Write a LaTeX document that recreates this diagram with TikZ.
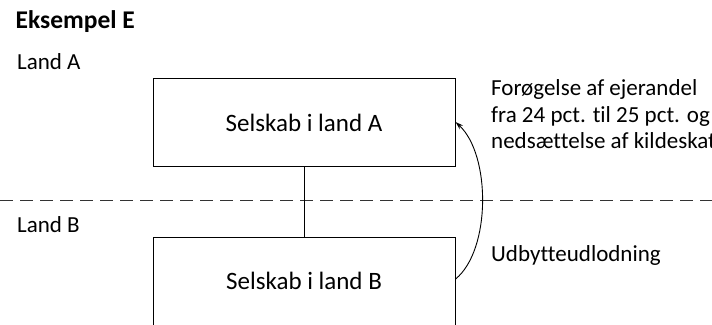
\documentclass[tikz,border=0pt]{standalone}
\usepackage{fontspec}
\setmainfont{Carlito}[Ligatures=NoCommon]
\usetikzlibrary{arrows.meta}
\begin{document}
\begin{tikzpicture}[x=1pt,y=-1pt,
  company/.style={draw,line width=1.1pt,minimum width=302pt,minimum height=88pt,inner sep=0pt},
  boxtext/.style={anchor=base,inner sep=0pt,font=\fontsize{25}{30}\selectfont},
  tag/.style={anchor=base west,inner sep=0pt,font=\fontsize{23}{27}\selectfont},
  border/.style={dash pattern=on 13pt off 7pt,line width=1.2pt,draw=black!80},
  flow/.style={line width=0.9pt,-{Stealth[length=8pt,width=5pt]}}]
  \useasboundingbox (0,0) rectangle (712,324);
  \clip (0,0) rectangle (712,324);
  % headings
  \node[tag,font=\bfseries\fontsize{25.5}{30}\selectfont] (title) at (15.5,28) {Eksempel E};
  \node[tag] (landA) at (17,69) {Land A};
  \node[tag] (landB) at (17,232) {Land B};
  % border between the two countries
  \coordinate (bl) at (0,200.5);
  \coordinate (br) at (712,200.5);
  \draw[border] (bl) -- (br);
  % companies
  \node[company,anchor=north west] (a) at (152.5,78) {};
  \node[company,anchor=north west,minimum height=120pt] (b) at (152.5,237) {};
  \node[boxtext] (alabel) at ([yshift=-9pt]a.center) {Selskab i land A};
  \node[boxtext] (blabel) at ([yshift=-52pt]b.north) {Selskab i land B};
  \draw[line width=1.1pt] (a.south) -- (b.north);
  % dividend flow
  \draw[flow] ([yshift=-42pt]b.north east) .. controls (491,250) and (491,155) .. ([yshift=-44pt]a.north east);
  % notes
  \node[tag] (note1) at (491,95) {Forøgelse af ejerandel};
  \node[tag] (note2) at (491,122) {fra 24 pct. til 25 pct. og};
  \node[tag] (note3) at (491,148.5) {nedsættelse af kildeskat};
  \node[tag] (div) at (491,261) {Udbytteudlodning};
\end{tikzpicture}
\end{document}
